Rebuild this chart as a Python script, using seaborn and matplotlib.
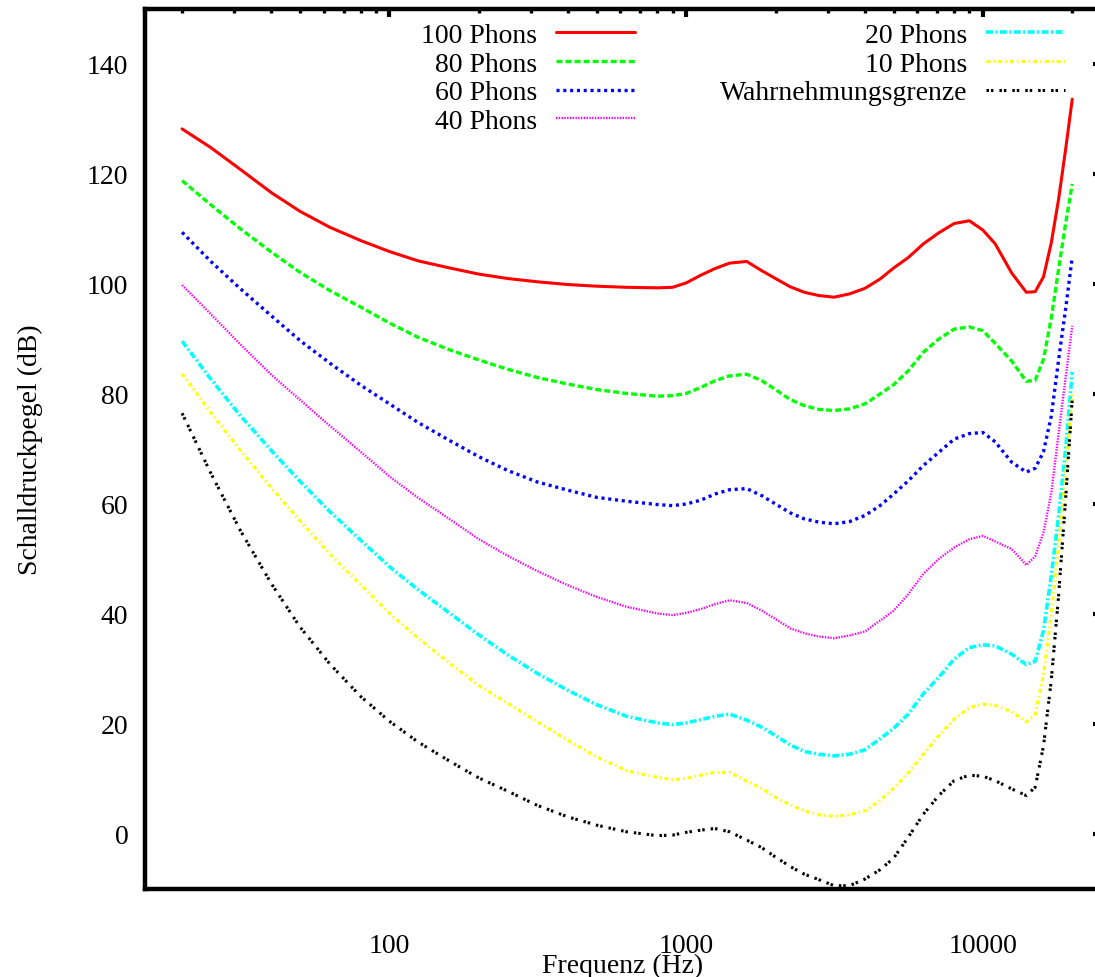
import matplotlib
matplotlib.use("Agg")
import matplotlib.pyplot as plt
import pandas as pd
import seaborn as sns
from matplotlib.ticker import FixedLocator, FixedFormatter, LogLocator, NullFormatter

# Frequencies (Hz) at which the contour levels are tabulated
FREQ_HZ = [20, 25, 31.5, 40, 50, 63, 80, 100, 125, 160, 200, 250, 315, 400, 500, 630, 800, 900,
           1000, 1120, 1250, 1400, 1600, 1800, 2000, 2240, 2500, 2800, 3150, 3550, 4000, 4500,
           5000, 5600, 6300, 7100, 8000,
           9000, 10000, 11000, 12500, 14000, 15000, 16000, 17000, 18000, 19000, 20000]

# Sound pressure level (dB) of each equal-loudness contour
PHON_100 = [128.2, 124.8, 120.8, 116.6, 113.2, 110.3, 107.9, 105.9, 104.2, 102.9, 101.8, 101.0,
            100.4, 99.9, 99.6, 99.4, 99.3, 99.4,
            100.2, 101.6, 102.8, 103.8, 104.1, 102.4, 101.0, 99.5, 98.5, 97.9, 97.6, 98.2, 99.2,
            100.9, 102.9, 104.8, 107.3, 109.3, 111.0,
            111.5, 109.8, 107.3, 102.0, 98.5, 98.6, 101.3, 107.5, 115.5, 124.5, 133.6]
PHON_80 = [118.8, 114.4, 110.0, 105.8, 102.1, 98.8, 95.8, 92.9, 90.3, 88.0, 86.2, 84.5,
           83.0, 81.8, 80.8, 80.1, 79.6, 79.7,
           80.1, 81.2, 82.4, 83.3, 83.6, 82.4, 80.8, 79.0, 77.9, 77.2, 77.0, 77.3, 78.2,
           80.0, 81.7, 84.2, 87.6, 90.0, 91.8,
           92.2, 91.5, 89.2, 86.0, 82.3, 82.5, 86.3, 93.8, 102.8, 111.0, 118.2]
PHON_60 = [109.4, 104.1, 99.1, 94.2, 89.7, 85.6, 81.6, 78.2, 74.8, 71.5, 68.6, 66.1,
           64.0, 62.5, 61.2, 60.5, 59.9, 59.7,
           60.0, 60.7, 61.8, 62.6, 62.8, 61.5, 60.0, 58.4, 57.3, 56.7, 56.4, 56.8, 57.9,
           59.7, 61.8, 64.2, 67.0, 69.4, 71.8,
           72.8, 73.0, 71.3, 67.6, 65.8, 66.5, 69.5, 76.0, 86.3, 95.5, 104.9]
PHON_40 = [99.8, 94.5, 89.0, 83.5, 78.9, 74.2, 69.5, 65.0, 61.1, 57.2, 53.6, 50.6,
           47.8, 45.2, 43.1, 41.3, 40.1, 39.8,
           40.2, 40.9, 41.8, 42.5, 42.0, 40.6, 39.1, 37.4, 36.5, 35.9, 35.6, 36.1, 36.8,
           38.8, 40.6, 43.6, 47.3, 50.0, 52.1,
           53.6, 54.2, 53.2, 51.8, 48.9, 50.5, 54.8, 62.0, 73.0, 83.0, 92.4]
PHON_20 = [89.6, 82.7, 76.0, 69.7, 64.1, 58.6, 53.4, 48.6, 44.4, 40.1, 36.2, 32.6,
           29.2, 26.1, 23.5, 21.4, 20.2, 19.9,
           20.2, 20.8, 21.4, 21.8, 20.7, 19.4, 17.9, 16.2, 15.0, 14.5, 14.2, 14.5, 15.3,
           17.3, 19.2, 21.8, 25.5, 28.5, 31.8,
           33.9, 34.4, 34.2, 32.7, 30.8, 31.4, 37.0, 47.0, 58.0, 70.0, 84.0]
PHON_10 = [83.7, 76.6, 69.7, 62.9, 56.9, 50.9, 45.3, 40.1, 35.6, 31.0, 27.0, 23.8,
           20.4, 17.0, 14.0, 11.5, 10.3, 9.9,
           10.1, 10.7, 11.2, 11.2, 9.6, 8.3, 6.7, 5.3, 4.2, 3.5, 3.2, 3.5, 4.2,
           6.1, 8.3, 11.1, 14.5, 17.9, 20.9,
           23.0, 23.6, 23.4, 22.2, 20.4, 21.7, 29.0, 40.0, 52.5, 65.5, 80.0]
THRESHOLD = [76.5, 65.6, 55.1, 45.5, 37.6, 30.9, 25.0, 20.5, 16.7, 13.2, 10.2, 7.8,
             5.2, 3.1, 1.6, 0.4, -0.3, -0.2,
             0.3, 0.7, 1.0, 0.4, -1.1, -2.5, -4.2, -5.9, -7.3, -8.3, -9.4, -9.4, -8.2,
             -6.5, -4.4, -0.6, 3.6, 7.0, 9.7,
             10.7, 10.5, 9.7, 8.2, 7.0, 8.5, 16.0, 28.0, 43.5, 61.0, 79.0]

LABELS = ["100 Phons", "80 Phons", "60 Phons", "40 Phons",
          "20 Phons", "10 Phons", "Wahrnehmungsgrenze"]
SERIES = [PHON_100, PHON_80, PHON_60, PHON_40, PHON_20, PHON_10, THRESHOLD]

X_TICKS = [100, 1000, 10000]
X_TICK_LABELS = ["100", "1000", "10000"]
Y_TICKS = [0, 20, 40, 60, 80, 100, 120, 140]
Y_TICK_LABELS = ["0", "20", "40", "60", "80", "100", "120", "140"]

# Line appearance per contour: colour, width (pt), dash pattern (pt)
STYLES = {
    "100 Phons": ("#ff0000", 2.2, "-"),
    "80 Phons": ("#00ff00", 2.4, (0, (4.3, 2.2))),
    "60 Phons": ("#0000ff", 2.4, (0, (2.2, 2.7))),
    "40 Phons": ("#ff00ff", 1.7, (0, (1.0, 1.0))),
    "20 Phons": ("#00ffff", 2.6, (0, (5.0, 1.8, 1.4, 1.8))),
    "10 Phons": ("#ffff00", 2.2, (0, (2.9, 2.2, 1.1, 2.2))),
    "Wahrnehmungsgrenze": ("#000000", 2.2, (0, (1.8, 1.4, 1.8, 4.3))),
}

rows = []
for name, values in zip(LABELS, SERIES):
    for f, v in zip(FREQ_HZ, values):
        rows.append({"Kurve": name, "Frequenz": f, "Pegel": v})
df = pd.DataFrame(rows)

sns.set_theme(style="white")
plt.rcParams["font.family"] = ["Liberation Serif", "DejaVu Serif"]
plt.rcParams["lines.scale_dashes"] = False

W, H = 1095, 978
fig = plt.figure(figsize=(W / 100, H / 100), dpi=100)
ax = fig.add_axes([145 / W, 88 / H, 956 / W, 880 / H])

for name in LABELS:
    color, lw, ls = STYLES[name]
    sns.lineplot(data=df[df["Kurve"] == name], x="Frequenz", y="Pegel",
                 ax=ax, color=color, linewidth=lw, linestyle=ls,
                 label=name, estimator=None, sort=False)

ax.set_xscale("log")
ax.set_xlim(15, 25000)
ax.set_ylim(-10, 150)

ax.xaxis.set_major_locator(FixedLocator(X_TICKS))
ax.xaxis.set_major_formatter(FixedFormatter(X_TICK_LABELS))
ax.xaxis.set_minor_locator(LogLocator(base=10, subs=range(2, 10)))
ax.xaxis.set_minor_formatter(NullFormatter())
ax.yaxis.set_major_locator(FixedLocator(Y_TICKS))
ax.yaxis.set_major_formatter(FixedFormatter(Y_TICK_LABELS))

for side in ["left", "right", "top", "bottom"]:
    ax.spines[side].set_visible(True)
    ax.spines[side].set_color("black")
    ax.spines[side].set_linewidth(3.2)

ax.tick_params(axis="both", which="major", direction="in", top=True, right=True,
               length=5.5, width=3.0, color="black", labelsize=20,
               labelcolor="black")
ax.tick_params(axis="both", which="minor", direction="in", top=True, right=True,
               length=3.0, width=2.4, color="black")
ax.tick_params(axis="x", which="major", pad=31.5)
ax.tick_params(axis="y", which="major", pad=12)

ax.set_xlabel("Frequenz (Hz)", fontsize=20, color="black", va="baseline")
ax.xaxis.set_label_coords(0.5, (890 - 973) / 880)
ax.set_ylabel("Schalldruckpegel (dB)", fontsize=20, color="black", va="baseline")
ax.yaxis.set_label_coords((37 - 145) / 956, 0.5)

leg = ax.legend(ncol=2, loc="upper right",
                bbox_to_anchor=(1065 / W, 1 - 23.5 / H), bbox_transform=fig.transFigure,
                frameon=False, fontsize=20, markerfirst=False,
                handlelength=2.84, handletextpad=0.68, columnspacing=3.06,
                labelspacing=0.115, borderpad=0, borderaxespad=0)
for column in leg._legend_handle_box.get_children():
    column.align = "right"
for t in leg.get_texts():
    t.set_color("black")

fig.savefig("out.png", dpi=100, facecolor="white")
